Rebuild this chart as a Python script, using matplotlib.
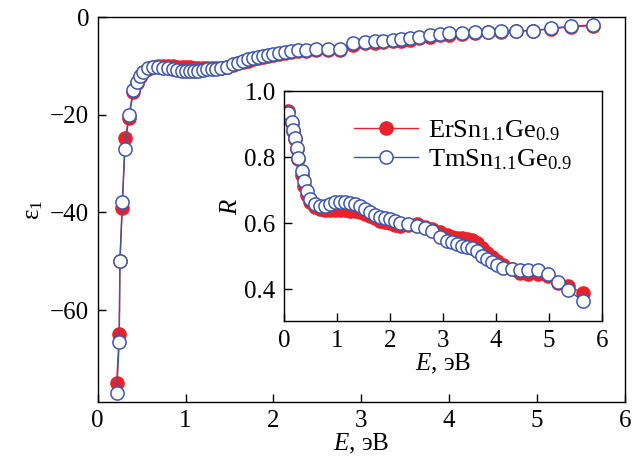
import matplotlib
matplotlib.use('Agg')
import matplotlib.pyplot as plt

# ---- data: epsilon_1 (main panel) ----
E_eps = [0.216, 0.245, 0.253, 0.28, 0.31, 0.356, 0.405, 0.443, 0.48, 0.519,
         0.575, 0.632, 0.689, 0.746, 0.803, 0.86, 0.905, 0.954, 1.003, 1.049,
         1.094, 1.144, 1.193, 1.246, 1.295, 1.345, 1.398, 1.466, 1.541, 1.598,
         1.655, 1.712, 1.769, 1.826, 1.882, 1.939, 1.996, 2.064, 2.128, 2.204,
         2.28, 2.375, 2.489, 2.62, 2.753, 2.905, 3.04, 3.15, 3.25, 3.36,
         3.45, 3.55, 3.66, 3.78, 3.89, 4.0, 4.14, 4.29, 4.44, 4.59,
         4.76, 4.95, 5.16, 5.39, 5.64]
eps_er = [-74.8, -64.8, -50.0, -39.1, -24.8, -20.7, -15.3, -13.5, -12.3, -11.3,
          -10.6, -10.2, -10.1, -10.1, -10.1, -10.1, -10.2, -10.3, -10.3, -10.3,
          -10.4, -10.4, -10.4, -10.4, -10.4, -10.4, -10.4, -10.2, -9.8, -9.5,
          -9.2, -8.9, -8.6, -8.4, -8.2, -8.0, -7.8, -7.6, -7.4, -7.2,
          -7.0, -6.9, -6.8, -6.8, -6.7, -5.7, -5.4, -5.3, -5.15, -5.0,
          -4.85, -4.65, -4.35, -4.0, -3.75, -3.6, -3.45, -3.25, -3.15, -3.0,
          -2.85, -2.8, -2.4, -2.0, -1.75]
eps_tm = [-76.9, -66.5, -49.9, -37.8, -27.0, -20.1, -14.9, -13.2, -12.1, -11.2,
          -10.5, -10.2, -10.2, -10.4, -10.5, -10.7, -10.85, -11.0, -11.05, -11.05,
          -11.0, -11.0, -10.85, -10.7, -10.6, -10.6, -10.5, -10.2, -9.7, -9.35,
          -9.0, -8.66, -8.32, -8.12, -7.92, -7.71, -7.5, -7.3, -7.16, -6.96,
          -6.76, -6.76, -6.62, -6.62, -6.48, -5.39, -5.12, -5.0, -4.9, -4.71,
          -4.57, -4.37, -4.03, -3.68, -3.48, -3.34, -3.21, -3.0, -3.0, -2.87,
          -2.8, -2.8, -2.32, -1.84, -1.64]

# ---- data: reflectivity R (inset) ----
E_R = [0.08, 0.145, 0.175, 0.208, 0.24, 0.27, 0.333, 0.377, 0.428, 0.49,
       0.585, 0.68, 0.774, 0.868, 0.962, 1.057, 1.151, 1.245, 1.34, 1.434,
       1.528, 1.623, 1.717, 1.811, 1.906, 2.0, 2.094, 2.189, 2.346, 2.503,
       2.66, 2.786, 2.943, 3.07, 3.164, 3.258, 3.352, 3.447, 3.541, 3.635,
       3.73, 3.824, 3.918, 4.013, 4.138, 4.296, 4.453, 4.61, 4.799, 4.987,
       5.176, 5.365, 5.635]
R_er = [0.94, 0.905, 0.88, 0.855, 0.825, 0.795, 0.745, 0.712, 0.685, 0.665,
        0.65, 0.643, 0.64, 0.64, 0.64, 0.64, 0.64, 0.638, 0.636, 0.633,
        0.628, 0.622, 0.615, 0.608, 0.603, 0.6, 0.596, 0.592, 0.595, 0.597,
        0.59, 0.583, 0.572, 0.563, 0.558, 0.556, 0.554, 0.552, 0.549, 0.54,
        0.525, 0.51, 0.497, 0.485, 0.472, 0.46, 0.448, 0.447, 0.445, 0.44,
        0.42, 0.41, 0.388]
R_tm = [0.933, 0.908, 0.883, 0.858, 0.828, 0.798, 0.758, 0.728, 0.698, 0.673,
        0.658, 0.653, 0.653, 0.658, 0.663, 0.663, 0.663, 0.66, 0.658, 0.653,
        0.643, 0.633, 0.625, 0.62, 0.616, 0.613, 0.608, 0.602, 0.598, 0.592,
        0.586, 0.577, 0.557, 0.547, 0.542, 0.537, 0.532, 0.529, 0.525, 0.517,
        0.502, 0.492, 0.482, 0.472, 0.465, 0.462, 0.459, 0.457, 0.457, 0.447,
        0.422, 0.397, 0.364]

lab_er = r'ErSn$_{1.1}$Ge$_{0.9}$'
lab_tm = r'TmSn$_{1.1}$Ge$_{0.9}$'

red = '#e8212b'
blue = '#3d57a9'

plt.rcParams['font.family'] = ['Liberation Serif', 'DejaVu Serif']
plt.rcParams['mathtext.fontset'] = 'custom'
plt.rcParams['mathtext.rm'] = 'Liberation Serif'
plt.rcParams['mathtext.it'] = 'Liberation Serif:italic'
plt.rcParams['axes.linewidth'] = 1.0
fs = 18

fig = plt.figure(figsize=(6.44, 4.73), dpi=100)
ax = fig.add_axes([0.1517, 0.150, 0.8188, 0.814])

ax.plot(E_eps, eps_er, '-o', color=red, lw=1.0, ms=9.5, mfc=red, mec=red,
        label=lab_er)
ax.plot(E_eps, eps_tm, '-o', color=blue, lw=1.0, ms=9.5, mfc='white', mec=blue,
        mew=1.1, label=lab_tm)
ax.set_xlim(0, 6)
ax.set_ylim(-78.8, 0)
ax.set_xticks(range(0, 7))
ax.set_yticks([0, -20, -40, -60])
ax.set_yticklabels(['0', '\u221220', '\u221240', '\u221260'])
ax.tick_params(direction='in', labelsize=fs, length=6, width=1, pad=6)
ax.set_xlabel(r'$E$, эВ', fontsize=fs, labelpad=0)
ax.set_ylabel('ε$_1$', fontsize=fs, labelpad=4)

# inset
ins = fig.add_axes([0.441, 0.321, 0.494, 0.486])
ins.plot(E_R, R_er, '-o', color=red, lw=1.0, ms=9.5, mfc=red, mec=red,
         label=lab_er)
ins.plot(E_R, R_tm, '-o', color=blue, lw=1.0, ms=9.5, mfc='white', mec=blue,
         mew=1.1, label=lab_tm)
ins.set_xlim(0, 6)
ins.set_ylim(0.303, 1.0)
ins.set_xticks(range(0, 7))
ins.set_yticks([0.4, 0.6, 0.8, 1.0])
ins.set_yticklabels(['0.4', '0.6', '0.8', '1.0'])
ins.tick_params(direction='in', labelsize=fs, length=6, width=1, pad=6)
ins.set_xlabel(r'$E$, эВ', fontsize=fs, labelpad=0)
ins.set_ylabel(r'$R$', fontsize=fs, labelpad=2)
ins.legend(loc='upper right', bbox_to_anchor=(0.955, 0.95), frameon=False,
           fontsize=19, handlelength=2.4, handletextpad=0.4, labelspacing=0.15,
           borderaxespad=0.2)

fig.savefig('out.png', dpi=100)
